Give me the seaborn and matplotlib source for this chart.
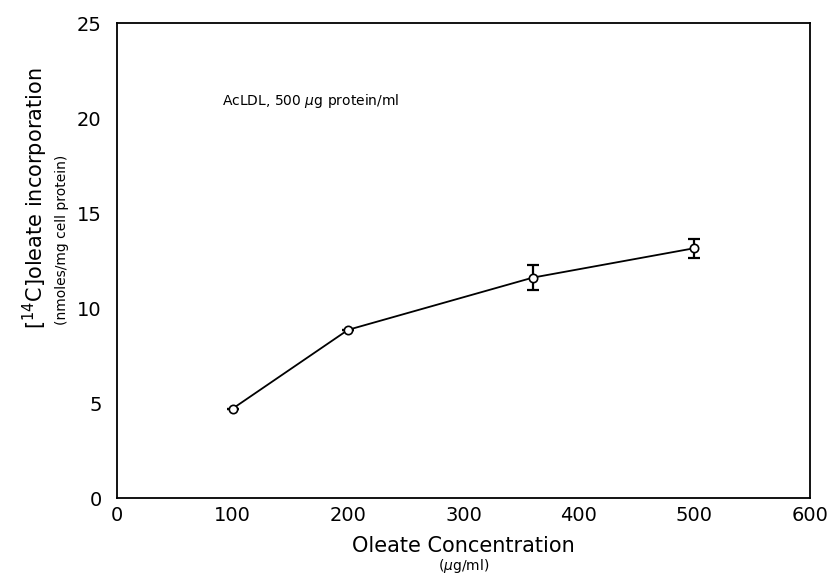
import pandas as pd
import seaborn as sns
import matplotlib.pyplot as plt

# Oleate concentration (ug/ml) vs [14C]oleate incorporation
conc = [100, 200, 360, 500]
incorp = [4.7, 8.85, 11.6, 13.15]
err = [0.0, 0.0, 0.65, 0.5]

x_ticks = [0, 100, 200, 300, 400, 500, 600]
y_ticks = [0, 5, 10, 15, 20, 25]

df = pd.DataFrame({'conc': conc, 'incorp': incorp, 'err': err})

sns.set_style('white')
plt.rcParams['font.family'] = ['DejaVu Sans']
plt.rcParams['text.color'] = 'black'

fig = plt.figure(figsize=(8.34, 5.76), dpi=100)
ax = fig.add_axes([0.1403, 0.1354, 0.8309, 0.8246])

# error bars first, then the line with open circles on top
ax.errorbar(df['conc'], df['incorp'], yerr=df['err'], fmt='none',
            ecolor='black', elinewidth=1.6, capsize=4, capthick=1.6, zorder=2)
sns.lineplot(data=df, x='conc', y='incorp', ax=ax, color='black', linewidth=1.3,
             marker='o', markersize=6, markerfacecolor='white',
             markeredgecolor='black', markeredgewidth=1.2, zorder=3)

ax.set_xlim(0, 600)
ax.set_ylim(0, 25)
ax.set_xticks(x_ticks)
ax.set_yticks(y_ticks)
ax.tick_params(direction='in', length=6, width=1.3, labelsize=14, colors='black')
ax.tick_params(axis='x', pad=6)
ax.tick_params(axis='y', pad=11)
for s in ax.spines.values():
    s.set_linewidth(1.3)
    s.set_color('black')

ax.set_xlabel('')
ax.set_ylabel('')

ax.text(91, 20.9, r'AcLDL, 500 $\mu$g protein/ml', fontsize=10, ha='left', va='center')

fig.text(0.556, 0.052, 'Oleate Concentration', fontsize=15, ha='center', va='center')
fig.text(0.556, 0.018, r'($\mu$g/ml)', fontsize=10, ha='center', va='center')

fig.text(0.042, 0.655, r'[$^{14}$C]oleate incorporation', fontsize=15,
         rotation=90, ha='center', va='center')
fig.text(0.074, 0.583, '(nmoles/mg cell protein)', fontsize=10,
         rotation=90, ha='center', va='center')

plt.savefig('out.png', dpi=100)
